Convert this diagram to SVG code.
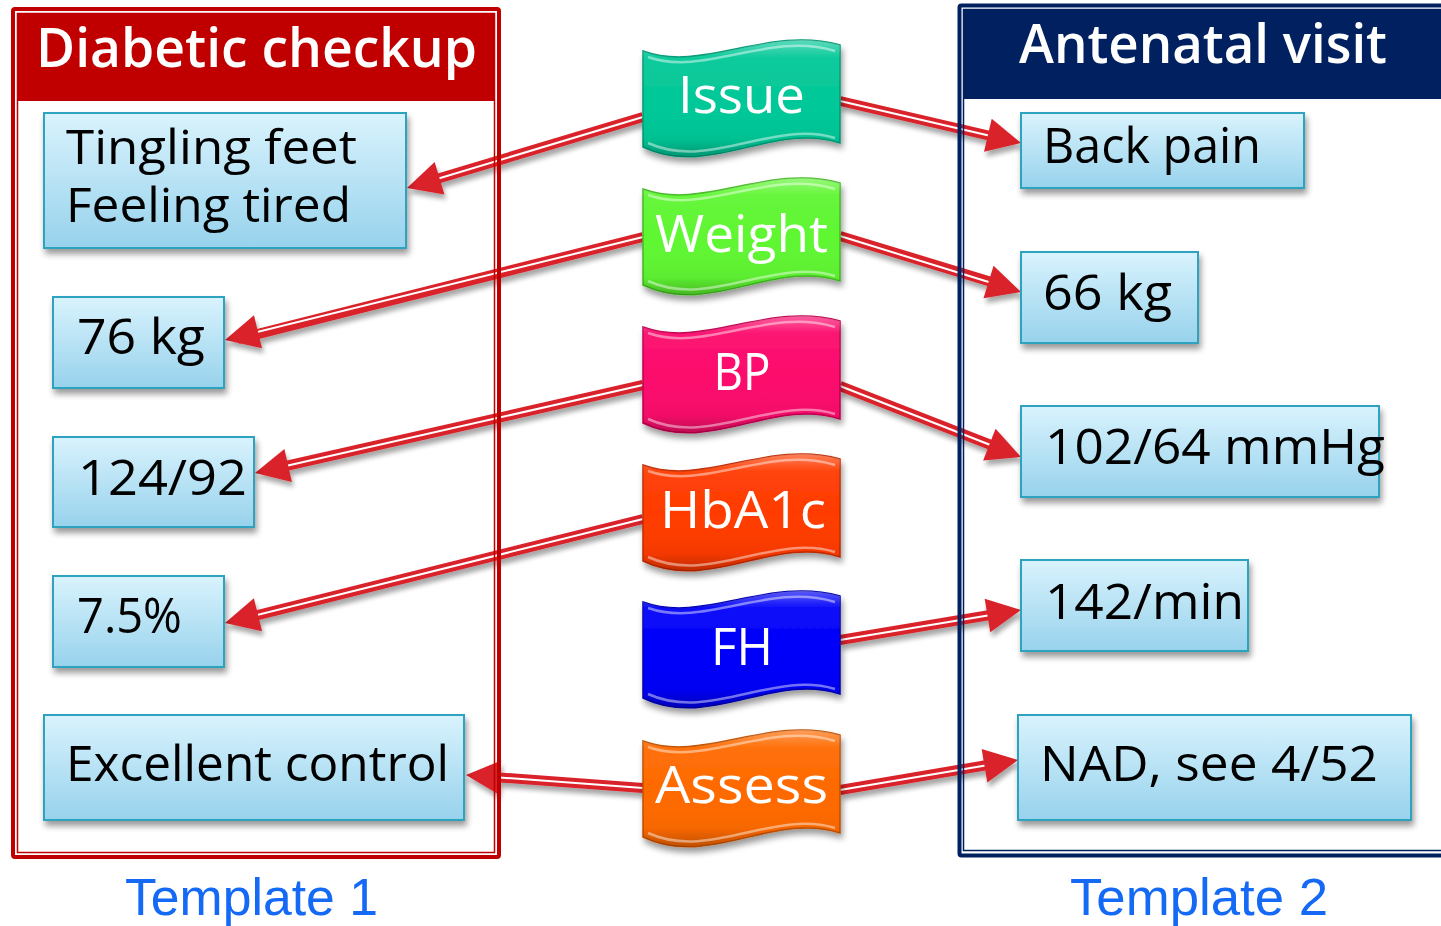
<svg xmlns="http://www.w3.org/2000/svg" width="1441" height="926" viewBox="0 0 1441 926">
<defs>
<style>
.node rect.box{fill:url(#boxg);stroke:#2fa3c0;stroke-width:2;filter:url(#sh)}
.nt{font-family:"Open Sans","DejaVu Sans",sans-serif;font-size:50px;fill:#000}
.nt2{font-family:"Open Sans","DejaVu Sans",sans-serif;font-size:47px;fill:#000}
.hd{font-family:"Open Sans","DejaVu Sans",sans-serif;font-size:54px;font-weight:600;fill:#fff}
.bt{font-family:"Open Sans","DejaVu Sans",sans-serif;font-size:52px;fill:#fff;text-anchor:middle}
.tp{font-family:"Liberation Sans",Arial,sans-serif;font-size:52px;fill:#1469f5}
.cr{fill:none;stroke:#d9232b;stroke-width:10}
.cw{fill:none;stroke:#fff;stroke-width:2;marker-end:url(#ah)}
.sheen{fill:url(#sheen);stroke:none}
.hl{fill:none;stroke:#fff;stroke-opacity:.45;stroke-width:2.5}
</style>
<linearGradient id="boxg" x1="0" y1="0" x2="0" y2="1">
<stop offset="0" stop-color="#d9f3fd"/>
<stop offset="1" stop-color="#97d2ec"/>
</linearGradient>
<linearGradient id="sheen" x1="0" y1="0" x2="0" y2="1">
<stop offset="0" stop-color="#fff" stop-opacity=".35"/>
<stop offset=".15" stop-color="#fff" stop-opacity=".05"/>
<stop offset=".5" stop-color="#fff" stop-opacity="0"/>
<stop offset=".85" stop-color="#000" stop-opacity=".04"/>
<stop offset="1" stop-color="#000" stop-opacity=".25"/>
</linearGradient>
<filter id="sh" x="-10%" y="-20%" width="130%" height="150%">
<feGaussianBlur in="SourceAlpha" stdDeviation="3"/>
<feOffset dx="2" dy="5" result="b"/>
<feComponentTransfer><feFuncA type="linear" slope=".4"/></feComponentTransfer>
<feMerge><feMergeNode/><feMergeNode in="SourceGraphic"/></feMerge>
</filter>
<filter id="ash" x="-10%" y="-30%" width="130%" height="180%">
<feGaussianBlur in="SourceAlpha" stdDeviation="2.5"/>
<feOffset dx="2" dy="5"/>
<feComponentTransfer><feFuncA type="linear" slope=".35"/></feComponentTransfer>
<feMerge><feMergeNode/><feMergeNode in="SourceGraphic"/></feMerge>
</filter>
<marker id="ah" markerUnits="userSpaceOnUse" markerWidth="40" markerHeight="40" viewBox="-36 -20 40 40" refX="0" refY="0" orient="auto" overflow="visible">
<path d="M0,0 L-34,-17 L-34,17 Z" fill="#d9232b"/>
</marker>
<path id="flag" d="M0,12 C60,34 125,-14 197,6 L197,104 C131,82 66,140 0,108 Z"/>
<path id="hltop" d="M5,18 C62,38 125,-8 192,12"/>
<path id="hlbot" d="M192,99 C131,80 66,132 5,104"/>
</defs>

<rect width="1441" height="926" fill="#fff"/>

<g id="connectors" filter="url(#ash)">
<path class="cr" d="M643,117 L420,184"/><path class="cw" d="M643,117 L407,188"/>
<path class="cr" d="M643,237 L238,339"/><path class="cw" d="M643,237 L225,340"/>
<path class="cr" d="M643,385 L268,470"/><path class="cw" d="M643,385 L255,473"/>
<path class="cr" d="M643,519 L238,620"/><path class="cw" d="M643,519 L225,623"/>
<path class="cr" d="M643,788 L480,776"/><path class="cw" d="M643,788 L466,775"/>
<path class="cr" d="M840,101 L1008,140"/><path class="cw" d="M840,101 L1021,143"/>
<path class="cr" d="M840,236 L1008,287"/><path class="cw" d="M840,236 L1021,292"/>
<path class="cr" d="M840,386 L1009,452"/><path class="cw" d="M840,386 L1021,457"/>
<path class="cr" d="M840,640 L1008,612"/><path class="cw" d="M840,640 L1021,610"/>
<path class="cr" d="M840,790 L1005,762"/><path class="cw" d="M840,790 L1018,760"/>
</g>

<g id="frame-left">
<rect x="17" y="13" width="478" height="88" fill="#c00000"/>
<rect x="13" y="9" width="486" height="848" rx="2" fill="none" stroke="#c00000" stroke-width="4"/>
<rect x="17.5" y="13.5" width="477" height="839" fill="none" stroke="#c00000" stroke-width="1.5"/>
<text class="hd" x="36" y="67" textLength="441" lengthAdjust="spacingAndGlyphs">Diabetic checkup</text>
</g>

<g id="frame-right">
<rect x="963" y="9" width="490" height="90" fill="#002060"/>
<rect x="959.5" y="5.5" width="520" height="850" rx="2" fill="none" stroke="#002060" stroke-width="4"/>
<rect x="963.5" y="9.5" width="510" height="841" fill="none" stroke="#002060" stroke-width="1.5"/>
<text class="hd" x="1019" y="63" textLength="368" lengthAdjust="spacingAndGlyphs">Antenatal visit</text>
</g>

<g id="n-tingling" class="node"><rect class="box" x="44" y="113" width="362" height="135"/>
<text class="nt2" x="66" y="164" textLength="291" lengthAdjust="spacingAndGlyphs">Tingling feet</text>
<text class="nt2" x="66" y="222" textLength="285" lengthAdjust="spacingAndGlyphs">Feeling tired</text></g>
<g id="n-76kg" class="node"><rect class="box" x="53" y="297" width="171" height="91"/>
<text class="nt" x="77" y="354" textLength="128" lengthAdjust="spacingAndGlyphs">76 kg</text></g>
<g id="n-12492" class="node"><rect class="box" x="53" y="437" width="201" height="90"/>
<text class="nt" x="78" y="495" textLength="169" lengthAdjust="spacingAndGlyphs">124/92</text></g>
<g id="n-75" class="node"><rect class="box" x="53" y="576" width="171" height="91"/>
<text class="nt" x="77" y="633" textLength="105" lengthAdjust="spacingAndGlyphs">7.5%</text></g>
<g id="n-excellent" class="node"><rect class="box" x="44" y="715" width="420" height="105"/>
<text class="nt" x="66" y="781" textLength="383" lengthAdjust="spacingAndGlyphs">Excellent control</text></g>

<g id="n-backpain" class="node"><rect class="box" x="1021" y="113" width="283" height="75"/>
<text class="nt" x="1043" y="163" textLength="218" lengthAdjust="spacingAndGlyphs">Back pain</text></g>
<g id="n-66kg" class="node"><rect class="box" x="1021" y="252" width="177" height="91"/>
<text class="nt" x="1043" y="310" textLength="129" lengthAdjust="spacingAndGlyphs">66 kg</text></g>
<g id="n-10264" class="node"><rect class="box" x="1021" y="406" width="358" height="91"/>
<text class="nt" x="1045" y="464" textLength="340" lengthAdjust="spacingAndGlyphs">102/64 mmHg</text></g>
<g id="n-142" class="node"><rect class="box" x="1021" y="560" width="227" height="91"/>
<text class="nt" x="1045" y="619" textLength="199" lengthAdjust="spacingAndGlyphs">142/min</text></g>
<g id="n-nad" class="node"><rect class="box" x="1018" y="715" width="393" height="105"/>
<text class="nt" x="1040" y="781" textLength="338" lengthAdjust="spacingAndGlyphs">NAD, see 4/52</text></g>

<g id="b-issue" transform="translate(643,39)" filter="url(#sh)">
<use href="#flag" fill="#03c898" stroke="#029a74" stroke-width="1.5"/><use href="#flag" class="sheen"/>
<use href="#hltop" class="hl"/><use href="#hlbot" class="hl"/>
<text class="bt" x="98.5" y="74" textLength="127" lengthAdjust="spacingAndGlyphs">Issue</text></g>
<g id="b-weight" transform="translate(643,177)" filter="url(#sh)">
<use href="#flag" fill="#5ff632" stroke="#44b824" stroke-width="1.5"/><use href="#flag" class="sheen"/>
<use href="#hltop" class="hl"/><use href="#hlbot" class="hl"/>
<text class="bt" x="98.5" y="75" textLength="173" lengthAdjust="spacingAndGlyphs">Weight</text></g>
<g id="b-bp" transform="translate(643,315)" filter="url(#sh)">
<use href="#flag" fill="#fc0a6c" stroke="#c00050" stroke-width="1.5"/><use href="#flag" class="sheen"/>
<use href="#hltop" class="hl"/><use href="#hlbot" class="hl"/>
<text class="bt" x="99" y="75" textLength="57" lengthAdjust="spacingAndGlyphs">BP</text></g>
<g id="b-hba1c" transform="translate(643,453)" filter="url(#sh)">
<use href="#flag" fill="#ff3b00" stroke="#c02c00" stroke-width="1.5"/><use href="#flag" class="sheen"/>
<use href="#hltop" class="hl"/><use href="#hlbot" class="hl"/>
<text class="bt" x="100" y="75" textLength="166" lengthAdjust="spacingAndGlyphs">HbA1c</text></g>
<g id="b-fh" transform="translate(643,590)" filter="url(#sh)">
<use href="#flag" fill="#0000fa" stroke="#0000b0" stroke-width="1.5"/><use href="#flag" class="sheen"/>
<use href="#hltop" class="hl"/><use href="#hlbot" class="hl"/>
<text class="bt" x="99" y="75" textLength="62" lengthAdjust="spacingAndGlyphs">FH</text></g>
<g id="b-assess" transform="translate(643,729)" filter="url(#sh)">
<use href="#flag" fill="#ff6a00" stroke="#c05000" stroke-width="1.5"/><use href="#flag" class="sheen"/>
<use href="#hltop" class="hl"/><use href="#hlbot" class="hl"/>
<text class="bt" x="98.5" y="74" textLength="173" lengthAdjust="spacingAndGlyphs">Assess</text></g>

<text class="tp" x="125" y="915" textLength="253" lengthAdjust="spacingAndGlyphs">Template 1</text>
<text class="tp" x="1070" y="915" textLength="258" lengthAdjust="spacingAndGlyphs">Template 2</text>
</svg>
